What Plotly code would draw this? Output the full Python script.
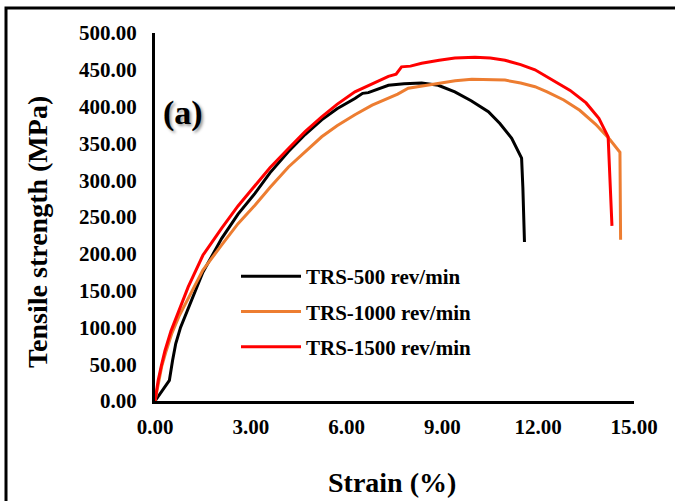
import plotly.graph_objects as go

# ---- data ----
strain_500 = [0, 0.2, 0.45, 0.55, 0.65, 0.8, 1.04, 1.5, 2.09, 2.6, 3.13, 3.6, 4.18, 4.7,
              5.22, 5.7, 6.26, 6.5, 6.68, 7.0, 7.31, 7.8, 8.35, 8.87, 9.39, 9.9, 10.44,
              10.8, 11.17, 11.48, 11.52, 11.57]
stress_500 = [0, 12, 28, 55, 78, 100, 126, 175, 221, 254, 282, 310, 339, 362,
              382, 397, 411, 418, 419, 424, 429, 431, 432, 429, 420, 408, 393,
              377, 357, 330, 290, 216]

strain_1000 = [0, 0.1, 0.21, 0.35, 0.52, 0.75, 1.04, 1.5, 2.09, 2.6, 3.13, 3.6, 4.18,
               4.7, 5.22, 5.7, 6.26, 6.8, 7.31, 7.6, 7.93, 8.4, 8.87, 9.4, 9.92, 10.45,
               10.96, 11.45, 11.9, 12.28, 12.8, 13.3, 13.8, 14.25, 14.56, 14.58]
stress_1000 = [0, 25, 47, 68, 91, 115, 140, 178, 212, 241, 266, 290, 318,
               339, 359, 374, 389, 402, 411, 417, 425, 428, 432, 435, 437, 437,
               436, 432, 427, 420, 409, 395, 376, 355, 338, 219]

strain_1500 = [0, 0.1, 0.2, 0.31, 0.5, 0.7, 1.04, 1.5, 2.09, 2.6, 3.13, 3.6, 4.18, 4.7,
               5.22, 5.7, 6.26, 6.8, 7.31, 7.55, 7.72, 8.0, 8.35, 8.9, 9.39, 10.02,
               10.5, 10.96, 11.45, 11.9, 12.47, 13.0, 13.5, 13.9, 14.19, 14.31]
stress_1500 = [0, 28, 48, 68, 95, 118, 155, 198, 235, 265, 292, 317, 343, 366,
               386, 403, 420, 431, 441, 444, 454, 455, 459, 463, 466, 467,
               466, 463, 457, 450, 436, 422, 405, 384, 359, 238]

series_names = ["TRS-500 rev/min", "TRS-1000 rev/min", "TRS-1500 rev/min"]
series_colors = ["#000000", "#ED7D31", "#FF0000"]
y_ticks = [0, 50, 100, 150, 200, 250, 300, 350, 400, 450, 500]
x_ticks = [0, 3, 6, 9, 12, 15]

# ---- layout geometry (pixels) ----
W, H = 675, 501
L, R, T, B = 155, 41, 33, 100
PW, PH = W - L - R, H - T - B


def px(x):
    return (x - L) / PW


def py(y):
    return (H - B - y) / PH


FONT = "Liberation Serif, Times New Roman, serif"

fig = go.Figure()
data = [(strain_500, stress_500), (strain_1000, stress_1000), (strain_1500, stress_1500)]
for i, ((xs, ys), name, col) in enumerate(zip(data, series_names, series_colors)):
    fig.add_trace(go.Scatter(x=xs, y=ys, mode="lines", name=name,
                             legendgroup=f"g{i}",
                             line=dict(color=col, width=3)))

fig.update_layout(
    width=W, height=H,
    margin=dict(l=L, r=R, t=T, b=B, pad=0),
    paper_bgcolor="white", plot_bgcolor="white",
    font=dict(family=FONT, size=20, color="black"),
    showlegend=True,
    legend=dict(x=px(236), y=py(256), xanchor="left", yanchor="top",
                bgcolor="rgba(0,0,0,0)", tracegroupgap=5, itemwidth=60,
                font=dict(family=FONT, size=21, color="black", weight="bold")),
    xaxis=dict(range=[0, 15], tickvals=x_ticks, tickformat=".2f",
               showgrid=False, zeroline=False, showline=True, linecolor="black",
               linewidth=3, ticks="", ticklabelstandoff=5,
               tickfont=dict(family=FONT, size=21, color="black", weight="bold")),
    yaxis=dict(range=[0, 500], tickvals=y_ticks, tickformat=".2f",
               showgrid=False, zeroline=False, showline=True, linecolor="black",
               linewidth=3, ticks="", ticklabelstandoff=11,
               tickfont=dict(family=FONT, size=21, color="black", weight="bold")),
)

fig.add_annotation(text="Strain (%)", xref="paper", yref="paper", x=px(392), y=py(482),
                   showarrow=False, xanchor="center", yanchor="middle",
                   font=dict(family=FONT, size=28, color="black", weight="bold"))
fig.add_annotation(text="Tensile strength (MPa)", xref="paper", yref="paper",
                   x=px(37), y=py(232), textangle=-90, showarrow=False,
                   xanchor="center", yanchor="middle",
                   font=dict(family=FONT, size=28, color="black", weight="bold"))
fig.add_annotation(text="(a)", xref="paper", yref="paper", x=px(183), y=py(113),
                   showarrow=False, xanchor="center", yanchor="middle",
                   font=dict(family=FONT, size=34, color="black", weight="bold",
                             shadow="2px 2px 3px #999999"))

# outer frame
fig.add_shape(type="rect", xref="paper", yref="paper",
              x0=px(6), x1=px(690), y0=py(8), y1=py(520),
              line=dict(color="black", width=3), fillcolor="rgba(0,0,0,0)", layer="below")

fig.write_html("out.html", config={"displayModeBar": False},
               post_script="document.body.style.margin='0';")
